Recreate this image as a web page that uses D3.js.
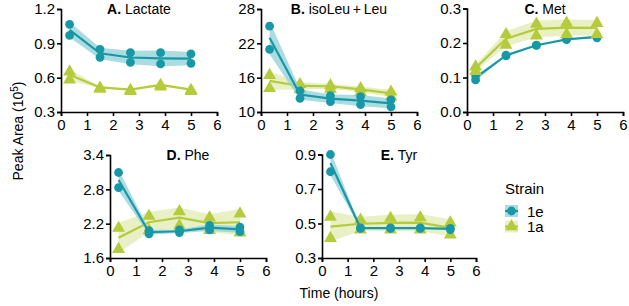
<!DOCTYPE html>
<html>
<head>
<meta charset="utf-8">
<script src="https://cdn.jsdelivr.net/npm/d3@7"></script>
<style>
  body { margin: 0; background: #fff; }
  svg { font-family: "Liberation Sans", Arial, sans-serif; }
</style>
</head>
<body>
<svg id="chart" width="629" height="306"></svg>
<script>
// sampling times (hours)
const times = [0.33, 1.5, 2.67, 3.83, 5.0];
const strains = ["1e", "1a"];

// two replicates per time point, peak area (10^5)
const lactate1e = [[1.066, 0.97], [0.848, 0.778], [0.818, 0.734], [0.818, 0.72], [0.807, 0.725]];
const lactate1a = [[0.66, 0.59], [0.52, 0.51], [0.50, 0.49], [0.544, 0.53], [0.50, 0.49]];
const leu1e = [[25.0, 20.95], [13.7, 12.4], [12.85, 11.8], [12.7, 11.3], [12.1, 10.9]];
const leu1a = [[16.6, 14.3], [15.0, 14.1], [14.8, 14.2], [14.3, 13.6], [13.7, 12.8]];
const met1e = [[0.105, 0.093], [0.165, 0.163], [0.194, 0.193], [0.211, 0.21], [0.22, 0.215]];
const met1a = [[0.134, 0.121], [0.228, 0.197], [0.258, 0.224], [0.261, 0.228], [0.26, 0.228]];
const phe1e = [[3.094, 2.83], [2.08, 2.02], [2.09, 2.045], [2.17, 2.09], [2.14, 2.06]];
const phe1a = [[2.14, 1.77], [2.35, 2.1], [2.43, 2.18], [2.32, 2.1], [2.39, 2.06]];
const tyr1e = [[0.9, 0.80], [0.475, 0.472], [0.474, 0.472], [0.474, 0.472], [0.472, 0.465]];
const tyr1a = [[0.544, 0.42], [0.527, 0.47], [0.537, 0.47], [0.54, 0.47], [0.51, 0.44]];

const panelLetters = ["A.", "B.", "C.", "D.", "E."];
const panelNames = ["Lactate", "isoLeu\u2009+\u2009Leu", "Met", "Phe", "Tyr"];
const yDomains = [[0.3, 1.2], [10, 28], [0, 0.3], [1.6, 3.4], [0.3, 0.9]];
const yTicks = [[0.3, 0.6, 0.9, 1.2], [10, 16, 22, 28], [0, 0.1, 0.2, 0.3], [1.6, 2.2, 2.8, 3.4], [0.3, 0.5, 0.7, 0.9]];
const yFormats = [".1f", "d", ".1f", ".1f", ".1f"];
const xTicks = [0, 1, 2, 3, 4, 5, 6];
const series = [[lactate1e, lactate1a], [leu1e, leu1a], [met1e, met1a], [phe1e, phe1a], [tyr1e, tyr1a]];

// plot boxes: left, right, top, bottom
const boxes = [
    [61, 217, 9, 112],
    [261, 417, 9, 112],
    [467, 623, 8.5, 112],
    [110, 266, 155, 258],
    [322, 476, 154.5, 258]
];

const colors = { "1e": "#1898a6", "1a": "#b5cb3a" };
const bandColors = { "1e": "#8fd0d8", "1a": "#e2ebb3" };

const svg = d3.select("#chart");

function stats(reps) {
    return reps.map((r, i) => {
        const m = d3.mean(r);
        const s = d3.deviation(r) || 0;
        return { t: times[i], mean: m, lo: m - s, hi: m + s, reps: r };
    });
}

function marker(g, strain, x, y) {
    if (strain === "1e") {
        g.append("circle").attr("cx", x).attr("cy", y).attr("r", 4.4).attr("fill", colors[strain]);
    } else {
        g.append("path")
            .attr("d", d3.symbol(d3.symbolTriangle, 72)())
            .attr("transform", `translate(${x},${y + 1})`)
            .attr("fill", colors[strain]);
    }
}

series.forEach((pair, p) => {
    const [l, r, t, b] = boxes[p];
    const x = d3.scaleLinear().domain([0, 6]).range([l, r]);
    const y = d3.scaleLinear().domain(yDomains[p]).range([b, t]);
    const g = svg.append("g");

    // draw 1a first so 1e sits on top of it where they overlap
    const order = p === 2 ? [0, 1] : [1, 0];
    order.forEach(si => {
        const strain = strains[si];
        const st = stats(pair[si]);
        g.append("path")
            .datum(st)
            .attr("fill", bandColors[strain])
            .attr("fill-opacity", 0.75)
            .attr("d", d3.area().x(d => x(d.t)).y0(d => y(d.lo)).y1(d => y(d.hi)));
        g.append("path")
            .datum(st)
            .attr("fill", "none")
            .attr("stroke", colors[strain])
            .attr("stroke-width", 2.2)
            .attr("d", d3.line().x(d => x(d.t)).y(d => y(d.mean)));
        st.forEach(d => d.reps.forEach(v => marker(g, strain, x(d.t), y(v))));
    });

    const xAxis = g.append("g")
        .attr("transform", `translate(0,${b})`)
        .call(d3.axisBottom(x).tickValues(xTicks).tickSize(4).tickPadding(3).tickFormat(d3.format("d")));
    const yAxis = g.append("g")
        .attr("transform", `translate(${l},0)`)
        .call(d3.axisLeft(y).tickValues(yTicks[p]).tickSize(4).tickPadding(2).tickFormat(d3.format(yFormats[p])));
    [xAxis, yAxis].forEach(a => {
        a.select(".domain").attr("stroke", "#000").attr("stroke-width", 1.6);
        a.selectAll(".tick line").attr("stroke", "#000").attr("stroke-width", 1.6);
        a.selectAll("text").attr("fill", "#000").style("font-size", "15px")
            .style("font-family", "'Liberation Sans', Arial, sans-serif");
    });

    const title = g.append("text")
        .attr("x", (l + r) / 2)
        .attr("y", t + 5)
        .attr("text-anchor", "middle")
        .style("font-size", "14px");
    title.append("tspan").attr("font-weight", "bold").text(panelLetters[p] + " ");
    title.append("tspan").text(panelNames[p]);
});

// y axis label
const yl = svg.append("text")
    .attr("transform", "translate(23,131) rotate(-90)")
    .attr("text-anchor", "middle")
    .style("font-size", "14px");
yl.append("tspan").text("Peak Area (10");
yl.append("tspan").attr("dy", -5).style("font-size", "10px").text("5");
yl.append("tspan").attr("dy", 5).text(")");

// x axis label
svg.append("text")
    .attr("x", 339)
    .attr("y", 298)
    .attr("text-anchor", "middle")
    .style("font-size", "14px")
    .text("Time (hours)");

// legend
const legend = svg.append("g");
legend.append("text").attr("x", 505).attr("y", 194).style("font-size", "15px").text("Strain");
strains.forEach((s, i) => {
    const cy = 211 + i * 15.5;
    legend.append("rect")
        .attr("x", 505).attr("y", cy - 6).attr("width", 13).attr("height", 12)
        .attr("fill", bandColors[s]).attr("fill-opacity", 0.75);
    legend.append("line")
        .attr("x1", 505).attr("x2", 518).attr("y1", cy).attr("y2", cy)
        .attr("stroke", colors[s]).attr("stroke-width", 2.2);
    marker(legend, s, 511.5, s === "1e" ? cy : cy - 1);
    legend.append("text").attr("x", 527).attr("y", cy + 5.5).style("font-size", "15px").text(s);
});
</script>
</body>
</html>
